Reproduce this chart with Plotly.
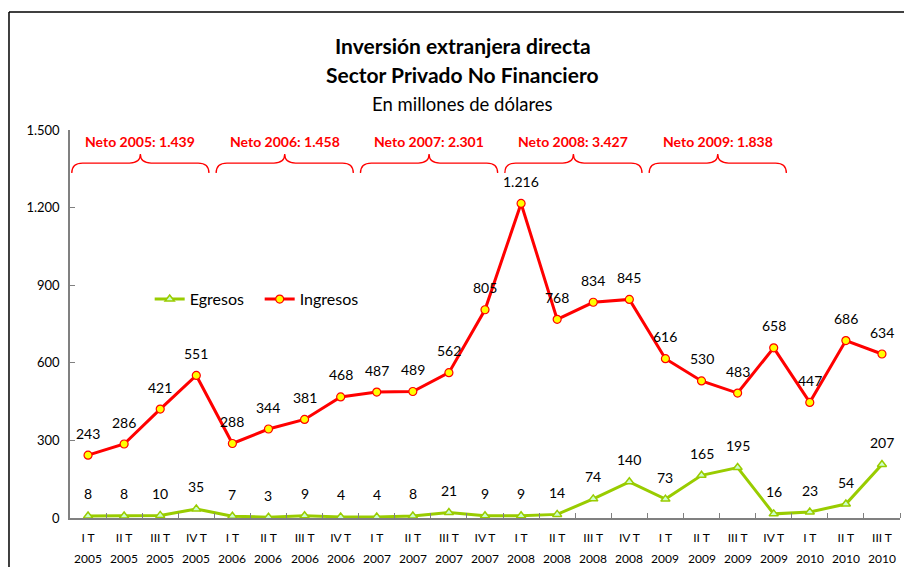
import plotly.graph_objects as go

# ---------------- data ----------------
quarters = ["I T", "II T", "III T", "IV T"] * 5 + ["I T", "II T", "III T"]
years = ["2005"] * 4 + ["2006"] * 4 + ["2007"] * 4 + ["2008"] * 4 + ["2009"] * 4 + ["2010"] * 3
ingresos = [243, 286, 421, 551, 288, 344, 381, 468, 487, 489, 562, 805,
            1216, 768, 834, 845, 616, 530, 483, 658, 447, 686, 634]
egresos = [8, 8, 10, 35, 7, 3, 9, 4, 4, 8, 21, 9,
           9, 14, 74, 140, 73, 165, 195, 16, 23, 54, 207]
neto_years = ["2005", "2006", "2007", "2008", "2009"]
neto_values = [1439, 1458, 2301, 3427, 1838]
y_ticks = [0, 300, 600, 900, 1200, 1500]

FONT = "Lato"
idx = list(range(len(quarters)))


def fmt(v):
    return f"{v:,}".replace(",", ".")


fig = go.Figure()
fig.add_trace(go.Scatter(
    x=idx, y=egresos, name="Egresos", mode="lines+markers",
    line=dict(color="#99CC00", width=3),
    marker=dict(symbol="triangle-up", size=8, color="#CCFFCC",
                line=dict(color="#99CC00", width=1.5)),
))
fig.add_trace(go.Scatter(
    x=idx, y=ingresos, name="Ingresos", mode="lines+markers",
    line=dict(color="#FF0000", width=3),
    marker=dict(symbol="circle", size=8, color="#FFFF00",
                line=dict(color="#FF0000", width=1.2)),
))

annotations = []
# data labels
for series in (egresos, ingresos):
    for i, v in zip(idx, series):
        annotations.append(dict(x=i, y=v, xref="x", yref="y", text=fmt(v),
                                showarrow=False, yanchor="middle", yshift=22,
                                font=dict(family=FONT, size=14, color="#000000")))
# year row under quarter labels
for i, yr in zip(idx, years):
    annotations.append(dict(x=i, y=0, xref="x", yref="paper", text=yr,
                            showarrow=False, yanchor="middle", yshift=-40,
                            font=dict(family=FONT, size=12, color="#000000")))
# titles
annotations += [
    dict(x=0.473, y=1.219, xref="paper", yref="paper", showarrow=False,
         text="<b>Inversión extranjera directa</b>", yanchor="middle",
         font=dict(family=FONT, size=21, color="#000000")),
    dict(x=0.473, y=1.142, xref="paper", yref="paper", showarrow=False,
         text="<b>Sector Privado No Financiero</b>", yanchor="middle",
         font=dict(family=FONT, size=21, color="#000000")),
    dict(x=0.473, y=1.067, xref="paper", yref="paper", showarrow=False,
         text="En millones de dólares", yanchor="middle",
         font=dict(family=FONT, size=18.5, color="#000000")),
]

shapes = []
# braces + neto labels
y_end, y_flat, y_tip, dx, hw = 1334, 1372, 1407, 0.3, 1.9
for k, (yr, val) in enumerate(zip(neto_years, neto_values)):
    group = [i for i, y in zip(idx, years) if y == yr]
    c = (group[0] + group[-1]) / 2 - 0.05
    path = (f"M {c-hw},{y_end} Q {c-hw},{y_flat} {c-hw+dx},{y_flat} "
            f"L {c-dx},{y_flat} Q {c},{y_flat} {c},{y_tip} "
            f"Q {c},{y_flat} {c+dx},{y_flat} L {c+hw-dx},{y_flat} "
            f"Q {c+hw},{y_flat} {c+hw},{y_end}")
    shapes.append(dict(type="path", path=path, xref="x", yref="y",
                       line=dict(color="#FF0000", width=1.3)))
    annotations.append(dict(x=c, y=1457, xref="x", yref="y", showarrow=False,
                            text=f"<b>Neto {yr}: {fmt(val)}</b>", yanchor="middle",
                            font=dict(family=FONT, size=14, color="#FF0000")))

# outer frame
shapes += [
    dict(type="line", xref="paper", yref="paper", x0=-0.0735, x1=-0.0735,
         y0=-0.2, y1=1.304, line=dict(color="#000000", width=1.5)),
    dict(type="line", xref="paper", yref="paper", x0=-0.0735, x1=1.02,
         y0=1.304, y1=1.304, line=dict(color="#000000", width=1.5)),
]

fig.update_layout(
    width=904, height=567,
    margin=dict(l=70, r=4, t=130, b=49),
    paper_bgcolor="#FFFFFF", plot_bgcolor="#FFFFFF",
    separators=",.",
    showlegend=True,
    legend=dict(orientation="h", x=0.096, y=0.564, xanchor="left", yanchor="middle",
                entrywidth=65, entrywidthmode="pixels",
                font=dict(family=FONT, size=16, color="#000000"),
                bgcolor="rgba(0,0,0,0)"),
    annotations=annotations,
    shapes=shapes,
    xaxis=dict(range=[-0.5, len(idx) - 0.5], tickmode="array", tickvals=idx,
               ticktext=quarters, ticks="", showgrid=False, zeroline=False,
               showline=True, linecolor="#808080", linewidth=1.5,
               ticklabelstandoff=8,
               tickfont=dict(family=FONT, size=12, color="#000000"),
               minor=dict(tickmode="array",
                          tickvals=[i + 0.5 for i in idx],
                          ticks="inside", ticklen=5, tickcolor="#808080",
                          showgrid=False)),
    yaxis=dict(range=[0, 1500], tickmode="array", tickvals=y_ticks,
               tickformat=",d", ticks="inside", ticklen=5, tickcolor="#808080",
               showgrid=False, zeroline=False, showline=True,
               linecolor="#808080", linewidth=1.5, ticklabelstandoff=6,
               tickfont=dict(family=FONT, size=13, color="#000000")),
)

fig.write_html("out.html", config={"displayModeBar": False},
               post_script="document.body.style.margin='0';document.body.style.padding='0';")
